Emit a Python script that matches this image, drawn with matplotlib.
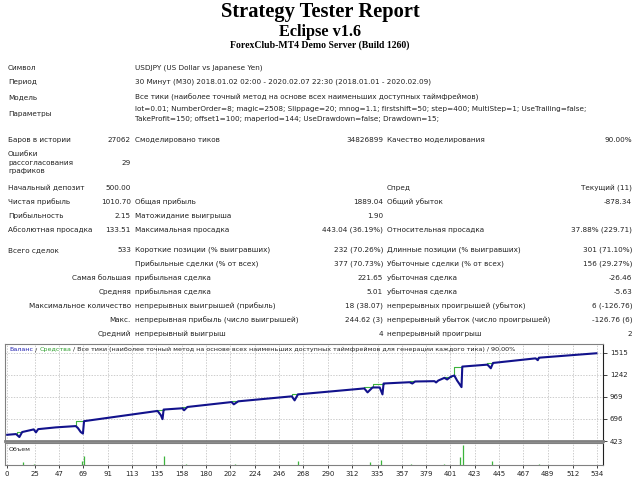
import matplotlib
matplotlib.use('Agg')
import matplotlib.pyplot as plt
import numpy as np

# ---------------- report text ----------------
title = 'Strategy Tester Report'
expert = 'Eclipse v1.6'
server = 'ForexClub-MT4 Demo Server (Build 1260)'

head_labels = ['Символ', 'Период', 'Модель', 'Параметры']
head_values = [
    'USDJPY (US Dollar vs Japanese Yen)',
    '30 Минут (M30) 2018.01.02 02:00 - 2020.02.07 22:30 (2018.01.01 - 2020.02.09)',
    'Все тики (наиболее точный метод на основе всех наименьших доступных таймфреймов)',
    'lot=0.01; NumberOrder=8; magic=2508; Slippage=20; mnog=1.1; firstshift=50; step=400; MultiStep=1; UseTrailing=false;\n'
    'TakeProfit=150; offset1=100; maperiod=144; UseDrawdown=false; Drawdown=15;',
]
head_y = [68, 82, 97, 114]

# rows: (y, left label, value1, mid label, value2, right label, value3)
stat_rows = [
    (140, 'Баров в истории', '27062', 'Смоделировано тиков', '34826899', 'Качество моделирования', '90.00%'),
    (163, 'Ошибки\nрассогласования\nграфиков', '29', '', '', '', ''),
    (188, 'Начальный депозит', '500.00', '', '', 'Спред', 'Текущий (11)'),
    (202, 'Чистая прибыль', '1010.70', 'Общая прибыль', '1889.04', 'Общий убыток', '-878.34'),
    (216, 'Прибыльность', '2.15', 'Матожидание выигрыша', '1.90', '', ''),
    (230, 'Абсолютная просадка', '133.51', 'Максимальная просадка', '443.04 (36.19%)',
     'Относительная просадка', '37.88% (229.71)'),
    (250, 'Всего сделок', '533', 'Короткие позиции (% выигравших)', '232 (70.26%)',
     'Длинные позиции (% выигравших)', '301 (71.10%)'),
    (264, '', '', 'Прибыльные сделки (% от всех)', '377 (70.73%)', 'Убыточные сделки (% от всех)', '156 (29.27%)'),
]
# rows where the first column is right aligned
trade_rows = [
    (278, 'Самая большая', 'прибыльная сделка', '221.65', 'убыточная сделка', '-26.46'),
    (292, 'Средняя', 'прибыльная сделка', '5.01', 'убыточная сделка', '-5.63'),
    (306, 'Максимальное количество', 'непрерывных выигрышей (прибыль)', '18 (38.07)',
     'непрерывных проигрышей (убыток)', '6 (-126.76)'),
    (320, 'Макс.', 'непрерывная прибыль (число выигрышей)', '244.62 (3)',
     'непрерывный убыток (число проигрышей)', '-126.76 (6)'),
    (334, 'Средний', 'непрерывный выигрыш', '4', 'непрерывный проигрыш', '2'),
]

# ---------------- chart data ----------------
bal_n = [0, 8, 11, 13.5, 24, 26, 28, 44, 62, 64, 66.5, 68.5, 69.5, 136, 139, 140.5, 141.5,
         158.5, 160, 163, 203, 205, 209, 257.5, 260, 263, 323, 326, 330.5, 337, 339.5, 340.5,
         364, 366.5, 369, 386.5, 388, 390, 395.5, 398, 401.5, 404.5, 407, 409, 411, 411.7,
         434.5, 437.5, 439.5, 478, 480, 481, 533]
bal_v = [500, 509, 472, 534, 567, 530, 570, 592, 608, 583, 534, 515, 669, 796, 743, 694, 813,
         829, 804, 845, 906, 878, 915, 977, 927, 1001, 1075, 1026, 1087, 1087, 1001, 1136,
         1152, 1136, 1161, 1165, 1149, 1173, 1206, 1186, 1222, 1235, 1173, 1133, 1091, 1346,
         1370, 1325, 1391, 1448, 1425, 1456, 1511]

# equity steps: start trade, end trade, level before, level after
eq_start = [9, 62, 136, 158.5, 203, 257.5, 323, 330.5, 364, 395.5, 404.5, 434.5, 478]
eq_end = [13.5, 69.5, 141.5, 163, 209, 263, 330.5, 340.5, 369, 401.5, 411.7, 439.5, 481]
eq_low = [509, 608, 796, 829, 906, 977, 1075, 1087, 1152, 1206, 1235, 1370, 1448]
eq_high = [534, 669, 813, 845, 915, 1001, 1087, 1136, 1161, 1222, 1346, 1391, 1456]

vol_n = [14, 24, 68, 69.5, 142, 162, 206, 263, 328, 338, 365, 395, 410, 412, 439, 481]
vol_v = [0.03, 0.01, 0.04, 0.09, 0.09, 0.01, 0.01, 0.04, 0.03, 0.05, 0.01, 0.01, 0.08, 0.20, 0.04, 0.01]

x_ticks = [0, 25, 47, 69, 91, 113, 135, 158, 180, 202, 224, 246, 268, 290, 312, 335,
           357, 379, 401, 423, 445, 467, 489, 512, 534]
y_ticks = [423, 696, 969, 1242, 1515]

chart_title = ['Баланс', ' / ', 'Средства',
               ' / Все тики (наиболее точный метод на основе всех наименьших доступных '
               'таймфреймов для генерации каждого тика) / 90.00%']

# ---------------- drawing ----------------
W, H = 640, 480
fig = plt.figure(figsize=(6.4, 4.8), dpi=100)
fig.patch.set_facecolor('white')
txt_col = '#222222'
fs = 5.2


def put(x, y, s, ha='left', **kw):
    kw.setdefault('fontsize', fs)
    kw.setdefault('color', txt_col)
    return fig.text(x / W, 1 - y / H, s, ha=ha, va='center', **kw)


put(320, 12, title, ha='center', family='Liberation Serif', weight='bold', fontsize=14.8, color='black')
put(320, 32, expert, ha='center', family='Liberation Serif', weight='bold', fontsize=11.7, color='black')
put(320, 45, server, ha='center', family='Liberation Serif', weight='bold', fontsize=7, color='black')

for y, lab, val in zip(head_y, head_labels, head_values):
    put(8, y, lab)
    put(135, y, val, linespacing=1.7)

for y, l1, v1, l2, v2, l3, v3 in stat_rows:
    put(8, y, l1, linespacing=1.5)
    put(131, y, v1, ha='right')
    put(135, y, l2)
    put(383, y, v2, ha='right')
    put(387, y, l3)
    put(632, y, v3, ha='right')

for y, l1, l2, v2, l3, v3 in trade_rows:
    put(131, y, l1, ha='right')
    put(135, y, l2)
    put(383, y, v2, ha='right')
    put(387, y, l3)
    put(632, y, v3, ha='right')

# main pane
left, right = 5, 603
ax = fig.add_axes([left / W, 1 - 441 / H, (right - left) / W, (441 - 344) / H])
axv = fig.add_axes([left / W, 1 - 465 / H, (right - left) / W, (465 - 443) / H])
xlim = (-2, 539)

for a in (ax, axv):
    a.set_xlim(*xlim)
    for s in a.spines.values():
        s.set_color('#808080')
        s.set_linewidth(0.8)
    a.spines['right'].set_color('#202020')
    a.set_xticks(x_ticks)
    a.grid(True, axis='x', color='#b8b8b8', ls=(0, (2, 2)), lw=0.5)

ax.set_ylim(423, 1626)
ax.set_yticks(y_ticks)
ax.grid(True, axis='y', color='#b8b8b8', ls=(0, (2, 2)), lw=0.5)
ax.yaxis.tick_right()
ax.tick_params(axis='y', labelsize=5, length=3, width=0.6, pad=2, colors=txt_col)
ax.tick_params(axis='x', labelbottom=False, length=0)
ax.spines['bottom'].set_color('#808080')
ax.spines['bottom'].set_linewidth(2.0)

for s0, s1, lo, hi in zip(eq_start, eq_end, eq_low, eq_high):
    ax.plot([s0, s0, s1], [lo, hi, hi], color='#3cb43c', lw=0.8, zorder=2)
ax.plot(bal_n, bal_v, color='#12128c', lw=1.5, zorder=3)

# header text with coloured words
fig.canvas.draw()
rend = fig.canvas.get_renderer()
x0 = 9
for part, col in zip(chart_title, ['#2020b0', txt_col, '#30a030', txt_col]):
    t = put(x0, 349.5, part, fontsize=4.55, color=col)
    x0 += t.get_window_extent(rend).width

# volume pane
axv.set_ylim(0, 0.22)
axv.set_yticks([])
axv.vlines(vol_n, 0, vol_v, color='#3cb43c', lw=0.9)
axv.text(0.006, 0.72, 'Объем', transform=axv.transAxes, fontsize=4.5, color=txt_col, va='center')
axv.tick_params(axis='x', labelsize=5, length=2, width=0.6, pad=2, colors=txt_col)
axv.set_xticklabels([str(v) for v in x_ticks])

fig.savefig('out.png', dpi=100)
